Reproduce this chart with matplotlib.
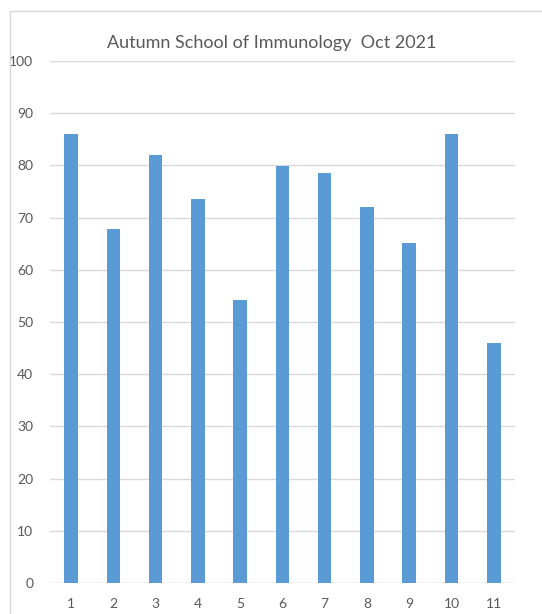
import matplotlib.pyplot as plt
from matplotlib.patches import Rectangle

# values
sessions = ['1', '2', '3', '4', '5', '6', '7', '8', '9', '10', '11']
scores = [86.0, 67.8, 82.0, 73.5, 54.3, 79.9, 78.5, 72.1, 65.1, 86.0, 45.9]
y_ticks = [0, 10, 20, 30, 40, 50, 60, 70, 80, 90, 100]

title = "Autumn School of Immunology  Oct 2021"
bar_color = '#5B9BD5'
grid_color = '#D9D9D9'
text_color = '#595959'


def main():
    plt.rcParams['font.family'] = ['Lato', 'DejaVu Sans']
    fig = plt.figure(figsize=(5.42, 6.14), dpi=100)

    # outer chart frame (only left/top edges visible in the crop)
    frame = Rectangle((10 / 542, -0.05), 1.0, 1 - 11 / 614 + 0.05,
                      transform=fig.transFigure, fill=False,
                      edgecolor=grid_color, linewidth=1.0)
    fig.patches.append(frame)

    ax = fig.add_axes([0.0923, 0.0505, 0.8577, 0.8502])
    x = list(range(1, len(sessions) + 1))
    ax.bar(x, scores, width=0.32, color=bar_color, zorder=3)

    ax.set_xlim(0.5, len(sessions) + 0.5)
    ax.set_ylim(0, 100)
    ax.set_yticks(y_ticks)
    ax.set_xticks(x)
    ax.set_xticklabels(sessions)
    ax.yaxis.grid(True, color=grid_color, linewidth=1.0, zorder=0)
    ax.set_axisbelow(True)
    for side in ['top', 'right', 'left', 'bottom']:
        ax.spines[side].set_visible(False)
    ax.axhline(0, color=grid_color, linewidth=1.0, zorder=1)
    ax.tick_params(axis='both', length=0, colors=text_color,
                   labelsize=10)
    ax.tick_params(axis='y', pad=12)
    ax.tick_params(axis='x', pad=11)

    fig.text(0.502, 0.93, title, ha='center', va='center',
             fontsize=13, color=text_color)

    fig.savefig('out.png', dpi=100)


if __name__ == '__main__':
    main()
